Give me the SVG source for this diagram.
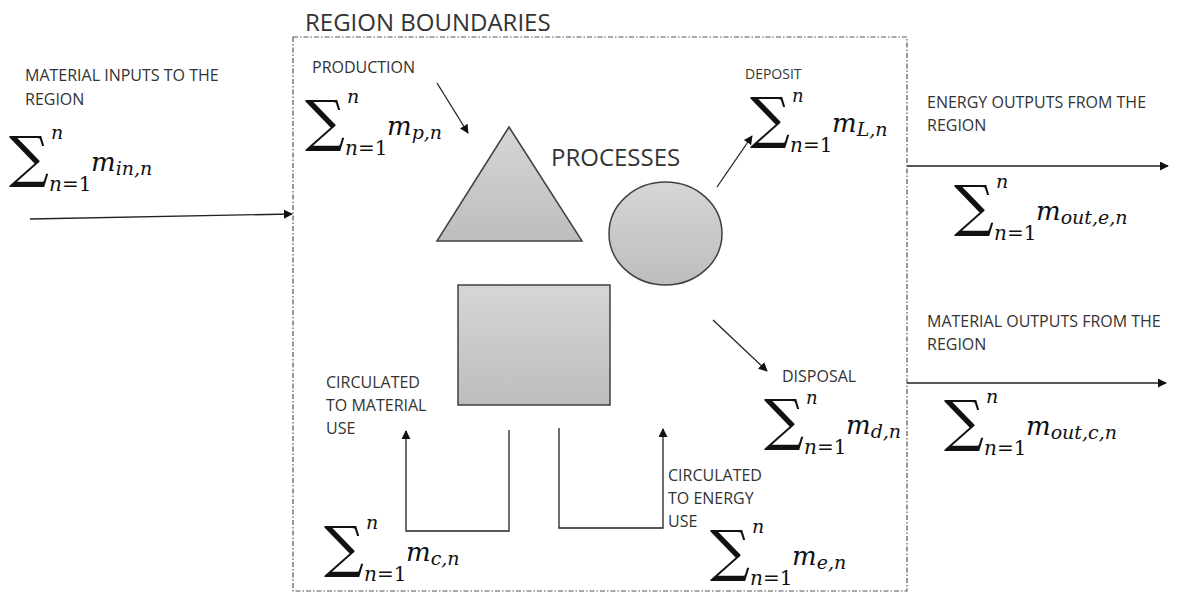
<svg xmlns="http://www.w3.org/2000/svg" width="1184" height="593" viewBox="0 0 1184 593">
<defs>
<linearGradient id="gray" x1="0" y1="0" x2="0" y2="1">
<stop offset="0" stop-color="#d6d6d6"/>
<stop offset="1" stop-color="#bdbdbd"/>
</linearGradient>
<marker id="ah" viewBox="0 0 10 10" refX="9" refY="5" markerWidth="9" markerHeight="9" markerUnits="userSpaceOnUse" orient="auto">
<path d="M0,0 L10,5 L0,10 z" fill="#111"/>
</marker>
<g id="sig">
<text class="sig" x="-3" y="43">∑</text>
</g>
</defs>
<style>
.lbl{font-family:"Open Sans","Liberation Sans",sans-serif;font-size:16px;fill:#333}
.title{font-family:"Open Sans","Liberation Sans",sans-serif;font-size:24px;fill:#333}
.sig{font-family:"DejaVu Serif",serif;font-size:56px;fill:#111}
.mi{font-family:"DejaVu Serif",serif;font-style:italic;fill:#111}
.up{font-style:normal}
.shape{fill:url(#gray);stroke:#404040;stroke-width:1.5}
.conn{fill:none;stroke:#222;stroke-width:1.3}
.bound{fill:none;stroke:#555;stroke-width:1.2;stroke-dasharray:5 2 1.5 2}
</style>
<rect class="bound" x="293" y="37" width="614" height="554"/>
<text class="title" x="305" y="31">REGION BOUNDARIES</text>

<g id="node-triangle"><polygon class="shape" points="509,127 582,241 437,241"/></g>
<g id="node-circle"><ellipse class="shape" cx="665.5" cy="233.5" rx="56.5" ry="51.5"/></g>
<g id="node-square"><rect class="shape" x="458" y="285" width="152" height="120"/></g>
<g id="label-processes"><text class="lbl" x="551" y="166" style="font-size:24px">PROCESSES</text></g>

<g id="label-inputs"><text class="lbl" x="25" y="81">MATERIAL INPUTS TO THE</text><text class="lbl" x="25" y="105">REGION</text></g>
<g id="label-production"><text class="lbl" x="312" y="73">PRODUCTION</text></g>
<g id="label-deposit"><text class="lbl" x="745" y="79" style="font-size:14px">DEPOSIT</text></g>
<g id="label-energy-out"><text class="lbl" x="927" y="108">ENERGY OUTPUTS FROM THE</text><text class="lbl" x="927" y="131">REGION</text></g>
<g id="label-material-out"><text class="lbl" x="927" y="327">MATERIAL OUTPUTS FROM THE</text><text class="lbl" x="927" y="350">REGION</text></g>
<g id="label-disposal"><text class="lbl" x="782" y="382">DISPOSAL</text></g>
<g id="label-circ-material"><text class="lbl" x="326" y="388">CIRCULATED</text><text class="lbl" x="326" y="411">TO MATERIAL</text><text class="lbl" x="326" y="434">USE</text></g>
<g id="label-circ-energy"><text class="lbl" x="668" y="481">CIRCULATED</text><text class="lbl" x="668" y="504">TO ENERGY</text><text class="lbl" x="668" y="527">USE</text></g>

<g id="sum-in" transform="translate(12,133)">
<use href="#sig"/>
<text class="mi" x="39" y="6" font-size="19">n</text>
<text class="mi" x="37" y="58" font-size="20">n<tspan class="up">=1</tspan></text>
<text class="mi" x="79" y="38" font-size="26">m<tspan font-size="19" dy="4">in,n</tspan></text>
</g>
<g id="sum-p" transform="translate(308,97)">
<use href="#sig"/>
<text class="mi" x="39" y="6" font-size="19">n</text>
<text class="mi" x="37" y="58" font-size="20">n<tspan class="up">=1</tspan></text>
<text class="mi" x="79" y="38" font-size="26">m<tspan font-size="19" dy="4">p,n</tspan></text>
</g>
<g id="sum-L" transform="translate(753,94)">
<use href="#sig"/>
<text class="mi" x="39" y="8" font-size="18">n</text>
<text class="mi" x="37" y="58" font-size="20">n<tspan class="up">=1</tspan></text>
<text class="mi" x="79" y="38" font-size="26">m<tspan font-size="19" dy="4">L,n</tspan></text>
</g>
<g id="sum-out-e" transform="translate(957,182)">
<use href="#sig"/>
<text class="mi" x="39" y="6" font-size="19">n</text>
<text class="mi" x="37" y="58" font-size="20">n<tspan class="up">=1</tspan></text>
<text class="mi" x="79" y="38" font-size="26">m<tspan font-size="19" dy="4">out,e,n</tspan></text>
</g>
<g id="sum-d" transform="translate(767,396)">
<use href="#sig"/>
<text class="mi" x="39" y="8" font-size="18">n</text>
<text class="mi" x="37" y="58" font-size="20">n<tspan class="up">=1</tspan></text>
<text class="mi" x="79" y="38" font-size="26">m<tspan font-size="19" dy="4">d,n</tspan></text>
</g>
<g id="sum-out-c" transform="translate(947,397)">
<use href="#sig"/>
<text class="mi" x="39" y="6" font-size="19">n</text>
<text class="mi" x="37" y="58" font-size="20">n<tspan class="up">=1</tspan></text>
<text class="mi" x="79" y="38" font-size="26">m<tspan font-size="19" dy="4">out,c,n</tspan></text>
</g>
<g id="sum-c" transform="translate(327,523)">
<use href="#sig"/>
<text class="mi" x="39" y="6" font-size="19">n</text>
<text class="mi" x="37" y="58" font-size="20">n<tspan class="up">=1</tspan></text>
<text class="mi" x="79" y="38" font-size="26">m<tspan font-size="19" dy="4">c,n</tspan></text>
</g>
<g id="sum-e" transform="translate(713,527)">
<use href="#sig"/>
<text class="mi" x="39" y="6" font-size="19">n</text>
<text class="mi" x="37" y="58" font-size="20">n<tspan class="up">=1</tspan></text>
<text class="mi" x="79" y="38" font-size="26">m<tspan font-size="19" dy="4">e,n</tspan></text>
</g>

<g id="connectors">
<line class="conn" x1="30" y1="219" x2="292" y2="214" marker-end="url(#ah)"/>
<line class="conn" x1="437" y1="83" x2="468" y2="133" marker-end="url(#ah)"/>
<line class="conn" x1="717" y1="187" x2="752" y2="136" marker-end="url(#ah)"/>
<line class="conn" x1="713" y1="320" x2="767" y2="371" marker-end="url(#ah)"/>
<line class="conn" x1="907" y1="166" x2="1168" y2="166" marker-end="url(#ah)"/>
<line class="conn" x1="907" y1="383" x2="1166" y2="383" marker-end="url(#ah)"/>
<polyline class="conn" points="509,430 509,531 406,531 406,431" marker-end="url(#ah)"/>
<polyline class="conn" points="559,428 559,528 663,528 663,429" marker-end="url(#ah)"/>
</g>
</svg>
